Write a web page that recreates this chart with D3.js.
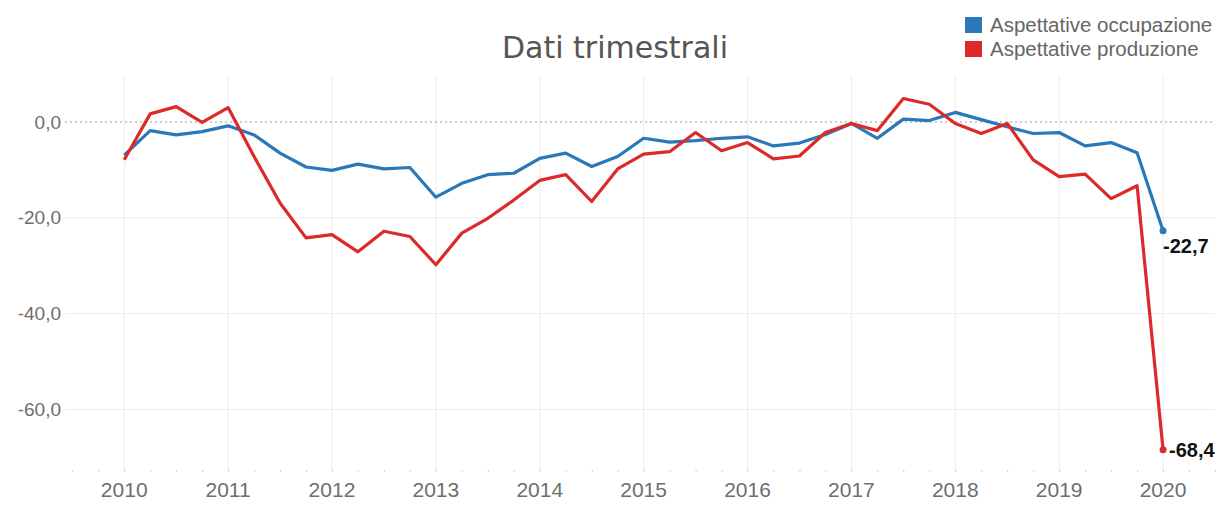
<!DOCTYPE html>
<meta charset="utf-8">
<script src="https://cdn.jsdelivr.net/npm/d3@7"></script>
<style>
  body { margin: 0; background: #fff; }
  svg { display: block; font-family: "Liberation Sans", Arial, sans-serif; }
</style>
<body>
<svg width="1221" height="505"></svg>
</body>
<script>
    // periodi trimestrali
    var periodi = [
        "2010T1","2010T2","2010T3","2010T4",
        "2011T1","2011T2","2011T3","2011T4",
        "2012T1","2012T2","2012T3","2012T4",
        "2013T1","2013T2","2013T3","2013T4",
        "2014T1","2014T2","2014T3","2014T4",
        "2015T1","2015T2","2015T3","2015T4",
        "2016T1","2016T2","2016T3","2016T4",
        "2017T1","2017T2","2017T3","2017T4",
        "2018T1","2018T2","2018T3","2018T4",
        "2019T1","2019T2","2019T3","2019T4",
        "2020T1"
    ];

    var occupazione = [
        -6.9, -1.8, -2.7, -2.0,
        -0.8, -2.7, -6.5, -9.4,
        -10.1, -8.8, -9.8, -9.5,
        -15.7, -12.8, -11.0, -10.7,
        -7.6, -6.5, -9.3, -7.2,
        -3.4, -4.2, -3.9, -3.4,
        -3.1, -5.0, -4.4, -2.6,
        -0.3, -3.4, 0.6, 0.3,
        2.0, 0.5, -1.0, -2.4,
        -2.2, -5.0, -4.3, -6.4,
        -22.7
    ];

    var produzione = [
        -7.9, 1.7, 3.2, -0.1,
        3.0, -7.2, -16.9, -24.2,
        -23.5, -27.1, -22.8, -23.9,
        -29.8, -23.2, -20.1, -16.3,
        -12.2, -11.0, -16.6, -9.8,
        -6.7, -6.2, -2.2, -6.0,
        -4.3, -7.7, -7.1, -2.2,
        -0.3, -1.8, 4.9, 3.7,
        -0.3, -2.4, -0.3, -7.9,
        -11.4, -10.9, -16.0, -13.3,
        -68.4
    ];

    var anni = [2010, 2011, 2012, 2013, 2014, 2015, 2016, 2017, 2018, 2019, 2020];
    var yTicks = [0, -20, -40, -60];

    var serie = [
        { nome: "Aspettative occupazione", valori: occupazione, colore: "#2a78b8" },
        { nome: "Aspettative produzione", valori: produzione, colore: "#dc2a2a" }
    ];

    // formato italiano: virgola decimale, trattino come segno meno
    var it = d3.formatLocale({ decimal: ",", thousands: ".", grouping: [3], currency: ["", "€"], minus: "-" });
    var fmt = it.format(".1f");

    function toYear(p) {
        return +p.slice(0, 4) + (+p.slice(5) - 1) / 4;
    }

    var svg = d3.select("svg");
    var plotTop = 75, plotBottom = 470, plotLeft = 65, plotRight = 1215;

    var x = d3.scaleLinear().domain([2009.43, 2020.5]).range([plotLeft, plotRight]);
    var y = d3.scaleLinear().domain([-72.65, 9.81]).range([plotBottom, plotTop]);

    // griglia verticale (anni)
    svg.append("g").selectAll("line")
        .data(anni).enter().append("line")
        .attr("x1", function (d) { return x(d); })
        .attr("x2", function (d) { return x(d); })
        .attr("y1", plotTop).attr("y2", plotBottom)
        .attr("stroke", "#ececec").attr("stroke-width", 1);

    // griglia orizzontale
    svg.append("g").selectAll("line")
        .data(yTicks).enter().append("line")
        .attr("x1", plotLeft).attr("x2", plotRight)
        .attr("y1", function (d) { return y(d); })
        .attr("y2", function (d) { return y(d); })
        .attr("stroke", function (d) { return d === 0 ? "#9a9a9a" : "#ececec"; })
        .attr("stroke-dasharray", function (d) { return d === 0 ? "2,3" : null; })
        .attr("stroke-width", 1);

    // tacche trimestrali
    var xAxis = d3.axisBottom(x)
        .tickValues(d3.range(2009.5, 2020.51, 0.25))
        .tickSize(2).tickFormat("");
    svg.append("g")
        .attr("transform", "translate(0," + plotBottom + ")")
        .call(xAxis)
        .call(function (g) {
            g.select(".domain").remove();
            g.selectAll(".tick line").attr("stroke", "#cfcfcf");
        });

    // etichette anni
    svg.append("g").selectAll("text")
        .data(anni).enter().append("text")
        .attr("x", function (d) { return x(d); })
        .attr("y", 497)
        .attr("text-anchor", "middle")
        .style("font-size", "21px")
        .style("fill", "#6e6e6e")
        .text(function (d) { return d; });

    // etichette asse y
    svg.append("g").selectAll("text")
        .data(yTicks).enter().append("text")
        .attr("x", 61)
        .attr("y", function (d) { return y(d); })
        .attr("dy", "0.35em")
        .attr("text-anchor", "end")
        .style("font-size", "19px")
        .style("fill", "#6e6e6e")
        .text(function (d) { return fmt(d); });

    // linee
    var line = d3.line()
        .x(function (d, i) { return x(toYear(periodi[i])); })
        .y(function (d) { return y(d); });

    svg.append("g").selectAll("path")
        .data(serie).enter().append("path")
        .attr("d", function (s) { return line(s.valori); })
        .attr("fill", "none")
        .attr("stroke", function (s) { return s.colore; })
        .attr("stroke-width", 3.2)
        .attr("stroke-linejoin", "round");

    // punto finale + etichetta
    var last = periodi.length - 1;
    var ends = svg.append("g").selectAll("g")
        .data(serie).enter().append("g");
    ends.append("circle")
        .attr("cx", function (s) { return x(toYear(periodi[last])); })
        .attr("cy", function (s) { return y(s.valori[last]); })
        .attr("r", 3.5)
        .attr("fill", function (s) { return s.colore; });
    ends.append("text")
        .attr("x", function (s, i) { return x(toYear(periodi[last])) + (i === 0 ? 0 : 6); })
        .attr("y", function (s, i) { return y(s.valori[last]) + (i === 0 ? 22 : 7); })
        .style("font-size", "20px")
        .style("font-weight", "bold")
        .style("fill", "#111")
        .text(function (s) { return fmt(s.valori[last]); });

    // titolo
    svg.append("text")
        .attr("x", 615).attr("y", 58)
        .attr("text-anchor", "middle")
        .style("font-family", "'DejaVu Sans', Verdana, sans-serif")
        .style("font-size", "30px")
        .style("fill", "#555")
        .text("Dati trimestrali");

    // legenda
    var leg = svg.append("g").selectAll("g")
        .data(serie).enter().append("g")
        .attr("transform", function (s, i) { return "translate(965," + (17 + i * 24) + ")"; });
    leg.append("rect")
        .attr("width", 17).attr("height", 16)
        .attr("fill", function (s) { return s.colore; });
    leg.append("text")
        .attr("x", 25).attr("y", 15)
        .style("font-size", "20.5px")
        .style("fill", "#666")
        .text(function (s) { return s.nome; });
</script>
